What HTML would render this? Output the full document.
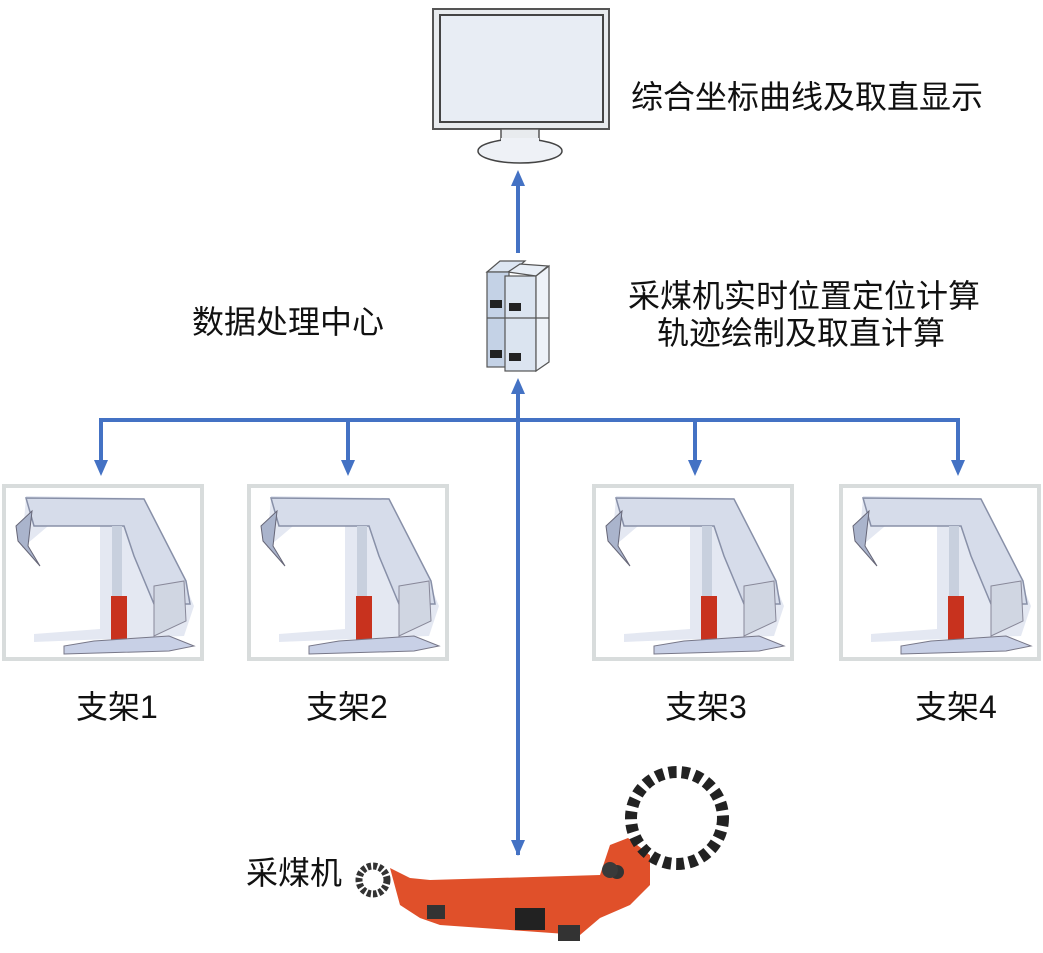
<!DOCTYPE html>
<html><head><meta charset="utf-8"><style>
html,body{margin:0;padding:0;background:#fff;}
svg{display:block}
text{font-family:"Liberation Sans","Noto Sans CJK SC",sans-serif;font-size:32px;fill:#111}
</style></head><body>
<svg width="1043" height="953" viewBox="0 0 1043 953" xmlns="http://www.w3.org/2000/svg">
<defs>
<marker id="ar" markerWidth="16" markerHeight="16" refX="8" refY="8" orient="auto" markerUnits="userSpaceOnUse" viewBox="0 0 16 16"><path d="M0,1 L16,8 L0,15z" fill="#4472C4"/></marker>
<g id="sup">
<rect x="0" y="0" width="198" height="173" fill="#fff" stroke="#d8dcdc" stroke-width="4"/>
<path d="M22,10 L140,12 L175,85 L190,120 L180,150 L30,156 L30,148 L96,143 L96,30 L50,35 L30,52 L18,62 Z" fill="#e4e8f2"/>
<path d="M22,12 L140,13 L182,95 L186,118 L150,118 L130,70 L120,40 L30,40 Z" fill="#d6dcea" stroke="#8890a8" stroke-width="1.5"/>
<path d="M12,40 L28,25 L24,60 L36,80 L14,55 Z" fill="#aab4cc" stroke="#667" stroke-width="1"/>
<rect x="108" y="40" width="10" height="80" fill="#c8d0de"/>
<rect x="107" y="110" width="16" height="48" fill="#c8321e"/>
<path d="M90,155 L165,150 L190,160 L165,165 L60,168 L60,160 Z" fill="#c8d0e6" stroke="#778" stroke-width="1"/>
<path d="M150,100 L180,95 L182,135 L150,150 Z" fill="#d0d6e2" stroke="#889" stroke-width="1"/>
</g>
</defs>

<rect x="433" y="9" width="176" height="120" fill="#e8ebee" stroke="#555" stroke-width="2"/>
<rect x="440" y="15" width="163" height="107" fill="#e8edf4" stroke="#444" stroke-width="2"/>
<rect x="501" y="129" width="38" height="15" fill="#e8ebee" stroke="#555" stroke-width="1.5"/>
<ellipse cx="520" cy="151" rx="42" ry="12" fill="#eef1f6" stroke="#444" stroke-width="1.5"/>
<rect x="501" y="138" width="38" height="6" fill="#eef1f6"/>

<g stroke="#555" stroke-width="1.2">
<path d="M487,272 L500,261 L525,261 L512,272 Z" fill="#dde6f2"/>
<path d="M508,272 L520,264 L548,266 L536,276 Z" fill="#e8eef6"/>
<rect x="487" y="272" width="22" height="95" fill="#c4d2e6"/>
<rect x="505" y="276" width="31" height="95" fill="#dbe4f0"/>
<path d="M536,276 L549,266 L549,362 L536,371 Z" fill="#eef2f8"/>
<line x1="487" y1="318" x2="549" y2="318"/>
</g>
<g fill="#222"><rect x="490" y="300" width="12" height="8"/><rect x="509" y="303" width="12" height="8"/><rect x="490" y="350" width="12" height="8"/><rect x="509" y="353" width="12" height="8"/></g>

<g stroke="#4472C4" stroke-width="4" fill="none">
<line x1="518" y1="253" x2="518" y2="178" marker-end="url(#ar)"/>
<line x1="518" y1="855" x2="518" y2="386" marker-end="url(#ar)"/>
<line x1="518" y1="420" x2="518" y2="848" marker-end="url(#ar)"/>
<polyline points="101,462 101,420 958,420 958,462"/>
<line x1="101" y1="440" x2="101" y2="468" marker-end="url(#ar)"/>
<line x1="348" y1="420" x2="348" y2="468" marker-end="url(#ar)"/>
<line x1="695" y1="420" x2="695" y2="468" marker-end="url(#ar)"/>
<line x1="958" y1="440" x2="958" y2="468" marker-end="url(#ar)"/>
</g>

<use href="#sup" x="4" y="486"/>
<use href="#sup" x="249" y="486"/>
<use href="#sup" x="594" y="486"/>
<use href="#sup" x="841" y="486"/>

<g>
<path d="M390,868 L410,878 L430,880 L600,875 L610,845 L628,838 L650,855 L650,885 L630,905 L600,918 L580,935 L440,925 L420,918 L400,905 Z" fill="#e0502a"/>
<rect x="427" y="905" width="18" height="14" fill="#333"/>
<rect x="515" y="908" width="30" height="22" fill="#222"/>
<rect x="558" y="925" width="22" height="16" fill="#333"/>
<circle cx="617" cy="872" r="7" fill="#333"/>
<circle cx="610" cy="870" r="8" fill="#3a3a3a"/>
<circle cx="677" cy="818" r="46" fill="#fff" stroke="#222" stroke-width="12" stroke-dasharray="8 5"/>
<circle cx="677" cy="818" r="38" fill="#fff"/>
<circle cx="373" cy="880" r="14" fill="#fff" stroke="#333" stroke-width="7" stroke-dasharray="4 2"/>
</g>

<text x="631" y="108">综合坐标曲线及取直显示</text>
<text x="192" y="333">数据处理中心</text>
<text x="628" y="307">采煤机实时位置定位计算</text>
<text x="657" y="344">轨迹绘制及取直计算</text>
<text x="76" y="718">支架1</text>
<text x="306" y="718">支架2</text>
<text x="665" y="718">支架3</text>
<text x="915" y="718">支架4</text>
<text x="246" y="884">采煤机</text>
</svg>
</body></html>
